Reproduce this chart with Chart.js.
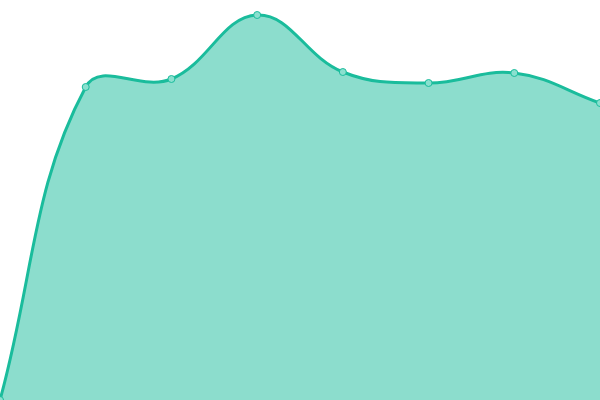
<!DOCTYPE html>
<html>
<head>
<meta charset="utf-8">
<script src="https://cdn.jsdelivr.net/npm/chart.js@4"></script>
<style>
  html, body { margin: 0; padding: 0; background: #fff; }
  .wrap { width: 600px; height: 400px; }
</style>
</head>
<body>
<div class="wrap"><canvas class="area-chart"></canvas></div>
<script>
// data (y axis runs 0..400)
const labels = ["1", "2", "3", "4", "5", "6", "7", "8"];
const values = [0, 313, 321, 385, 328, 317, 327, 297];

var ctx = document.querySelector(".area-chart");
new Chart(ctx, {
  type: "line",
  options: {
    maintainAspectRatio: false,
    animation: false,
    layout: { padding: 0, autoPadding: false },
    plugins: {
      legend: { display: false },
      tooltip: { enabled: false },
    },
    scales: {
      x: { display: false, offset: false },
      y: { display: false, min: 0, max: 400 },
    },
  },
  data: {
    labels: labels,
    datasets: [
      {
        data: values,
        fill: true,
        tension: 0.4,
        borderColor: "#1abc9c",
        borderWidth: 3,
        backgroundColor: "rgba(26,188,156,0.5)",
        pointRadius: 3.5,
        pointBorderWidth: 1,
        pointBackgroundColor: "#8ae0cf",
        pointBorderColor: "#1abc9c",
      },
    ],
  },
});
</script>
</body>
</html>
